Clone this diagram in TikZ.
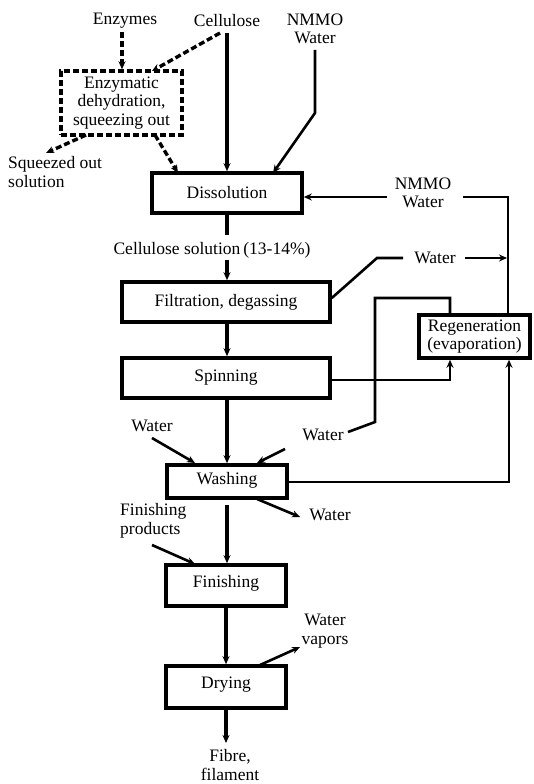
\documentclass[tikz,border=0pt]{standalone}
\usepackage{fontspec}
\setmainfont{Liberation Serif}
\usetikzlibrary{arrows.meta}
\begin{document}
\begin{tikzpicture}[x=1pt,y=-1pt,
  every node/.style={font=\fontsize{17.5}{18.5}\selectfont, inner sep=0pt, align=center},
  procbox/.style={draw, line width=3.6pt, rectangle},
  main/.style={line width=3.6pt},
  thin/.style={line width=2.6pt},
  dsh/.style={line width=3.4pt, dash pattern=on 6pt off 3pt},
  tip/.style={-{Stealth[length=8pt,width=7pt]}},
]
\useasboundingbox (0,0) rectangle (533,784);
% labels
\node (enz) at (125,21) {Enzymes};
\node (cel) at (227,21) {Cellulose};
\node (nmmo1) at (315,29) {NMMO\\Water};
\node (sq) [anchor=west, align=left] at (8,172) {Squeezed out\\solution};
\node (csol) at (212,250) {Cellulose solution\,(13-14\%)};
\node (nmmo2) at (423,193) {NMMO\\Water};
\node (w1) at (435,258) {Water};
\node (w2) at (323,435) {Water};
\node (w3) at (152,426) {Water};
\node (w4) at (330,515) {Water};
\node (fp) [anchor=west, align=left] at (120,521) {Finishing\\products};
\node (wv) at (325,631) {Water\\vapors};
\node (fib) at (230,765) {Fibre,\\filament};
% boxes
\node (enzb) [draw, dsh, minimum width=121pt, minimum height=64pt] at (121.5,103) {Enzymatic\\dehydration,\\squeezing out};
\node (diss) [procbox, minimum width=150pt, minimum height=40pt] at (227,193) {Dissolution};
\node (filt) [procbox, minimum width=208pt, minimum height=40pt] at (226,302) {Filtration, degassing};
\node (spin) [procbox, minimum width=208pt, minimum height=40pt] at (226,378) {Spinning};
\node (regen) [procbox, minimum width=111pt, minimum height=43pt] at (474.5,336.5) {Regeneration\\(evaporation)};
\node (wash) [procbox, minimum width=120pt, minimum height=33pt, text depth=6pt] at (227,481.5) {Washing};
\node (fin) [procbox, minimum width=120pt, minimum height=41pt, text depth=8pt] at (226,585.5) {Finishing};
\node (dry) [procbox, minimum width=120pt, minimum height=42pt, text depth=8pt] at (226,687) {Drying};
% top inputs
\draw[dsh, tip] (enz.south) ++(-3,3) coordinate (e1) -- (e1 |- enzb.north);
\draw[dsh, tip] (220,33) -- (152,71);
\draw[main, tip] (227,33) -- (diss.north -| 227,0);
\draw[thin, tip] (315,50) -- (315,113) -- (273,173);
\draw[dsh, tip] (86,135) -- (46,153);
\draw[dsh, tip] (155,135) -- (178,173);
% main chain
\draw[main] (diss.south -| 227,0) -- ++(0,20);
\draw[main, tip] (227,260) -- (filt.north -| 227,0);
\draw[main, tip] (filt.south -| 227,0) -- (spin.north -| 227,0);
\draw[main, tip] (spin.south -| 227,0) -- (wash.north -| 227,0);
\draw[main, tip] (227,505) -- (fin.north -| 227,0);
\draw[main, tip] (fin.south -| 226,0) -- (dry.north -| 226,0);
\draw[main, tip] (dry.south -| 226,0) -- (226,743);
% recycle NMMO/water
\draw[thin, tip] (387,197) -- (diss.east |- 0,197);
\draw[thin] (463,197) -- (508,197) -- (regen.north -| 508,0);
\draw[thin] (filt.east |- 0,298) -- (377,258) -- (403,258);
\draw[thin, tip] (465,258) -- (507,258);
\draw[thin, tip] (spin.east |- 0,380) -- (450,380) -- (regen.south -| 450,0);
\draw[thin] (regen.north -| 450,0) -- (450,298) -- (375,298) -- (375,422) -- (348,432);
\draw[thin, tip] (wash.east |- 0,482) -- (509,482) -- (regen.south -| 509,0);
% washing in/out
\draw[thin, tip] (152,438) -- (195,463);
\draw[thin, tip] (285,449) -- (257,463);
\draw[thin, tip] (257,499) -- (300,517);
\draw[thin, tip] (152,545) -- (195,564);
\draw[thin, tip] (260,665) -- (300,647);
\end{tikzpicture}
\end{document}
